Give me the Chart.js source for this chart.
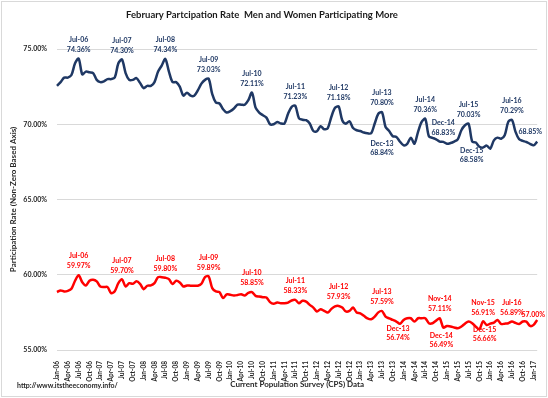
<!DOCTYPE html>
<html>
<head>
<meta charset="utf-8">
<script src="https://cdn.jsdelivr.net/npm/chart.js@4.4.0/dist/chart.umd.min.js"></script>
<style>
  body { margin: 0; background: #fff; }
  canvas { display: block; }
</style>
</head>
<body>
<canvas id="chart" width="548" height="398"></canvas>
<script>
// months Jan-06 .. Feb-17
const monthNames = ['Jan','Feb','Mar','Apr','May','Jun','Jul','Aug','Sep','Oct','Nov','Dec'];
const years = ['06','07','08','09','10','11','12','13','14','15','16','17'];
const labels = [];
years.forEach(y => monthNames.forEach(m => labels.push(m + '-' + y)));
labels.length = 134; // ends at Feb-17

// Men participation rate (NSA), one row per year
const menRate = [
  72.55, 72.80, 73.10, 73.10, 73.27, 74.05, 74.36, 73.31, 73.50, 73.45, 73.40, 72.95,
  72.80, 72.85, 73.00, 73.00, 73.10, 74.05, 74.30, 73.40, 72.95, 72.95, 73.07, 72.75,
  72.40, 72.55, 72.55, 72.80, 73.50, 73.90, 74.34, 73.50, 72.80, 72.80, 72.50, 71.90,
  72.10, 71.90, 71.90, 72.25, 72.70, 72.95, 73.03, 72.00, 71.45, 71.38, 71.00, 70.78,
  70.87, 71.05, 71.30, 71.30, 71.30, 71.60, 72.11, 71.10, 70.78, 70.60, 70.44, 70.00,
  70.00, 70.15, 70.05, 70.05, 70.70, 71.16, 71.23, 70.40, 70.30, 70.27, 70.05, 69.55,
  69.53, 69.87, 69.67, 69.75, 70.50, 71.09, 71.18, 70.27, 70.04, 70.20, 69.75, 69.60,
  69.55, 69.45, 69.40, 69.40, 70.05, 70.70, 70.80, 69.82, 69.55, 69.20, 69.16, 68.84,
  68.60, 68.70, 69.11, 68.71, 69.50, 70.16, 70.36, 69.20, 69.10, 69.00, 68.85, 68.83,
  68.70, 68.75, 68.85, 69.00, 69.60, 69.93, 70.03, 68.85, 68.78, 68.50, 68.45, 68.58,
  68.38, 68.93, 69.11, 69.04, 69.27, 70.16, 70.29, 69.49, 69.00, 68.90, 68.82, 68.70,
  68.60, 68.85
];

// Women participation rate (NSA)
const womenRate = [
  58.85, 58.96, 58.89, 58.93, 59.07, 59.60, 59.97, 59.50, 59.29, 59.60, 59.67, 59.56,
  59.22, 59.18, 59.18, 58.78, 58.90, 59.44, 59.70, 59.22, 59.44, 59.40, 59.56, 59.40,
  59.04, 59.27, 59.29, 59.44, 59.84, 59.84, 59.80, 59.71, 59.38, 59.60, 59.49, 59.22,
  59.29, 59.27, 59.27, 59.27, 59.40, 59.85, 59.89, 59.11, 58.89, 58.85, 58.45, 58.70,
  58.67, 58.62, 58.65, 58.71, 58.62, 58.80, 58.85, 58.60, 58.55, 58.51, 58.49, 58.18,
  58.07, 58.16, 58.11, 58.11, 58.15, 58.29, 58.33, 58.11, 58.27, 58.22, 58.00, 57.82,
  57.56, 57.71, 57.60, 57.49, 57.73, 57.90, 57.93, 57.82, 57.56, 57.60, 57.82, 57.49,
  57.44, 57.27, 57.10, 57.04, 57.22, 57.50, 57.59, 57.22, 57.10, 57.00, 56.89, 56.74,
  57.00, 57.11, 57.11, 56.89, 57.11, 57.11, 57.11, 56.78, 56.78, 56.95, 57.11, 56.49,
  56.60, 56.56, 56.50, 56.44, 56.56, 56.75, 56.89, 56.78, 56.55, 56.38, 56.91, 56.66,
  56.75, 56.82, 57.00, 56.73, 56.75, 56.78, 56.89, 56.80, 56.73, 56.89, 56.89, 56.60,
  56.67, 57.00
];

const yTicks = [55, 60, 65, 70, 75];

// labelled points: [month, placement]
const menNotes = [
  ['Jul-06','up'], ['Jul-07','up'], ['Jul-08','up'], ['Jul-09','up'], ['Jul-10','up'],
  ['Jul-11','up'], ['Jul-12','up'], ['Jul-13','up'], ['Dec-13','downLeft'], ['Jul-14','up'],
  ['Dec-14','up'], ['Jul-15','up'], ['Dec-15','downLeft2'], ['Jul-16','up'], ['Feb-17','lastMen']
];
const womenNotes = [
  ['Jul-06','up'], ['Jul-07','up'], ['Jul-08','up'], ['Jul-09','up'], ['Jul-10','up'],
  ['Jul-11','up'], ['Jul-12','up'], ['Jul-13','up'], ['Dec-13','down'], ['Nov-14','up'],
  ['Dec-14','down2'], ['Nov-15','up'], ['Dec-15','down'], ['Jul-16','up'], ['Feb-17','lastWomen']
];

const NAVY = '#1f3864';
const RED = '#ff0000';
const TEXT = '#262626';
const FONT = 'Lato, "Open Sans", sans-serif';

const placements = {
  up:        { dx: 0,   dy1: -19, dy2: -9 },
  down:      { dx: -2,  dy1: 5,   dy2: 14 },
  down2:     { dx: -2,  dy1: 8,   dy2: 17 },
  downLeft:  { dx: -18, dy1: 2,   dy2: 11 },
  downLeft2: { dx: -15, dy1: 5,   dy2: 14 },
  lastMen:   { dx: -7,  dy: -10, single: true },
  lastWomen: { dx: -4,  dy: -5,  single: true }
};

const notePlugin = {
  id: 'notes',
  afterDatasetsDraw(chart) {
    const ctx = chart.ctx;
    const xs = chart.scales.x, ys = chart.scales.y;
    ctx.save();
    ctx.font = 'bold 7px ' + FONT;
    ctx.textAlign = 'center';
    ctx.textBaseline = 'middle';
    [[menNotes, menRate, NAVY], [womenNotes, womenRate, RED]].forEach(([notes, data, color]) => {
      ctx.fillStyle = color;
      notes.forEach(([lab, pos]) => {
        const i = labels.indexOf(lab);
        const x = xs.getPixelForValue(i);
        const y = ys.getPixelForValue(data[i]);
        const p = placements[pos];
        const txt = data[i].toFixed(2) + '%';
        if (p.single) {
          ctx.fillText(txt, x + p.dx, y + p.dy);
        } else {
          ctx.fillText(lab, x + p.dx, y + p.dy1);
          ctx.fillText(txt, x + p.dx, y + p.dy2);
        }
      });
    });
    ctx.restore();
  },
  afterDraw(chart) {
    const ctx = chart.ctx;
    const area = chart.chartArea;
    ctx.save();
    ctx.strokeStyle = '#d9d9d9';
    ctx.lineWidth = 1;
    ctx.strokeRect(1.5, 1.5, 545, 395);
    ctx.fillStyle = '#1a1a1a';
    ctx.textAlign = 'center';
    ctx.textBaseline = 'middle';
    ctx.font = 'bold 9.5px ' + FONT;
    ctx.fillText('February Partcipation Rate  Men and Women Participating More', 262, 15);
    ctx.fillStyle = TEXT;
    ctx.font = 'bold 8px ' + FONT;
    ctx.fillText('Current Population Survey (CPS) Data', (area.left + area.right) / 2, 384);
    ctx.save();
    ctx.translate(13, (area.top + area.bottom) / 2);
    ctx.rotate(-Math.PI / 2);
    ctx.fillText('Participation Rate (Non-Zero Based Axis)', 0, 0);
    ctx.restore();
    ctx.textAlign = 'left';
    ctx.font = 'bold 7px ' + FONT;
    ctx.fillText('http://www.itstheeconomy.info/', 17, 386);
    ctx.restore();
  }
};

const ctx = document.getElementById('chart').getContext('2d');
const chart = new Chart(ctx, {
  type: 'line',
  data: {
    labels: labels,
    datasets: [
      {
        label: 'Men',
        data: menRate,
        borderColor: NAVY,
        borderWidth: 2.5,
        pointRadius: 0,
        tension: 0.3
      },
      {
        label: 'Women',
        data: womenRate,
        borderColor: RED,
        borderWidth: 2.5,
        pointRadius: 0,
        tension: 0.3
      }
    ]
  },
  options: {
    responsive: false,
    animation: false,
    devicePixelRatio: 1,
    layout: { padding: { left: 8, right: 10, top: 49, bottom: 0 } },
    plugins: {
      legend: { display: false },
      tooltip: { enabled: false }
    },
    scales: {
      x: {
        offset: false,
        grid: { display: false },
        border: { display: false },
        ticks: {
          autoSkip: false,
          minRotation: 90,
          maxRotation: 90,
          padding: 3,
          color: TEXT,
          font: { family: FONT, size: 6.5, weight: 'bold' },
          callback: (v, i) => (i % 3 === 0 ? labels[i] : '')
        },
        afterFit: s => { s.height = 48; }
      },
      y: {
        min: 55,
        max: 75,
        grid: { color: '#d9d9d9', drawTicks: false },
        border: { display: false },
        afterBuildTicks: s => { s.ticks = yTicks.map(v => ({ value: v })); },
        ticks: {
          padding: 10,
          color: TEXT,
          font: { family: FONT, size: 7, weight: 'bold' },
          callback: v => v.toFixed(2) + '%'
        },
        afterFit: s => { s.width = 49; }
      }
    }
  },
  plugins: [notePlugin]
});
</script>
</body>
</html>
